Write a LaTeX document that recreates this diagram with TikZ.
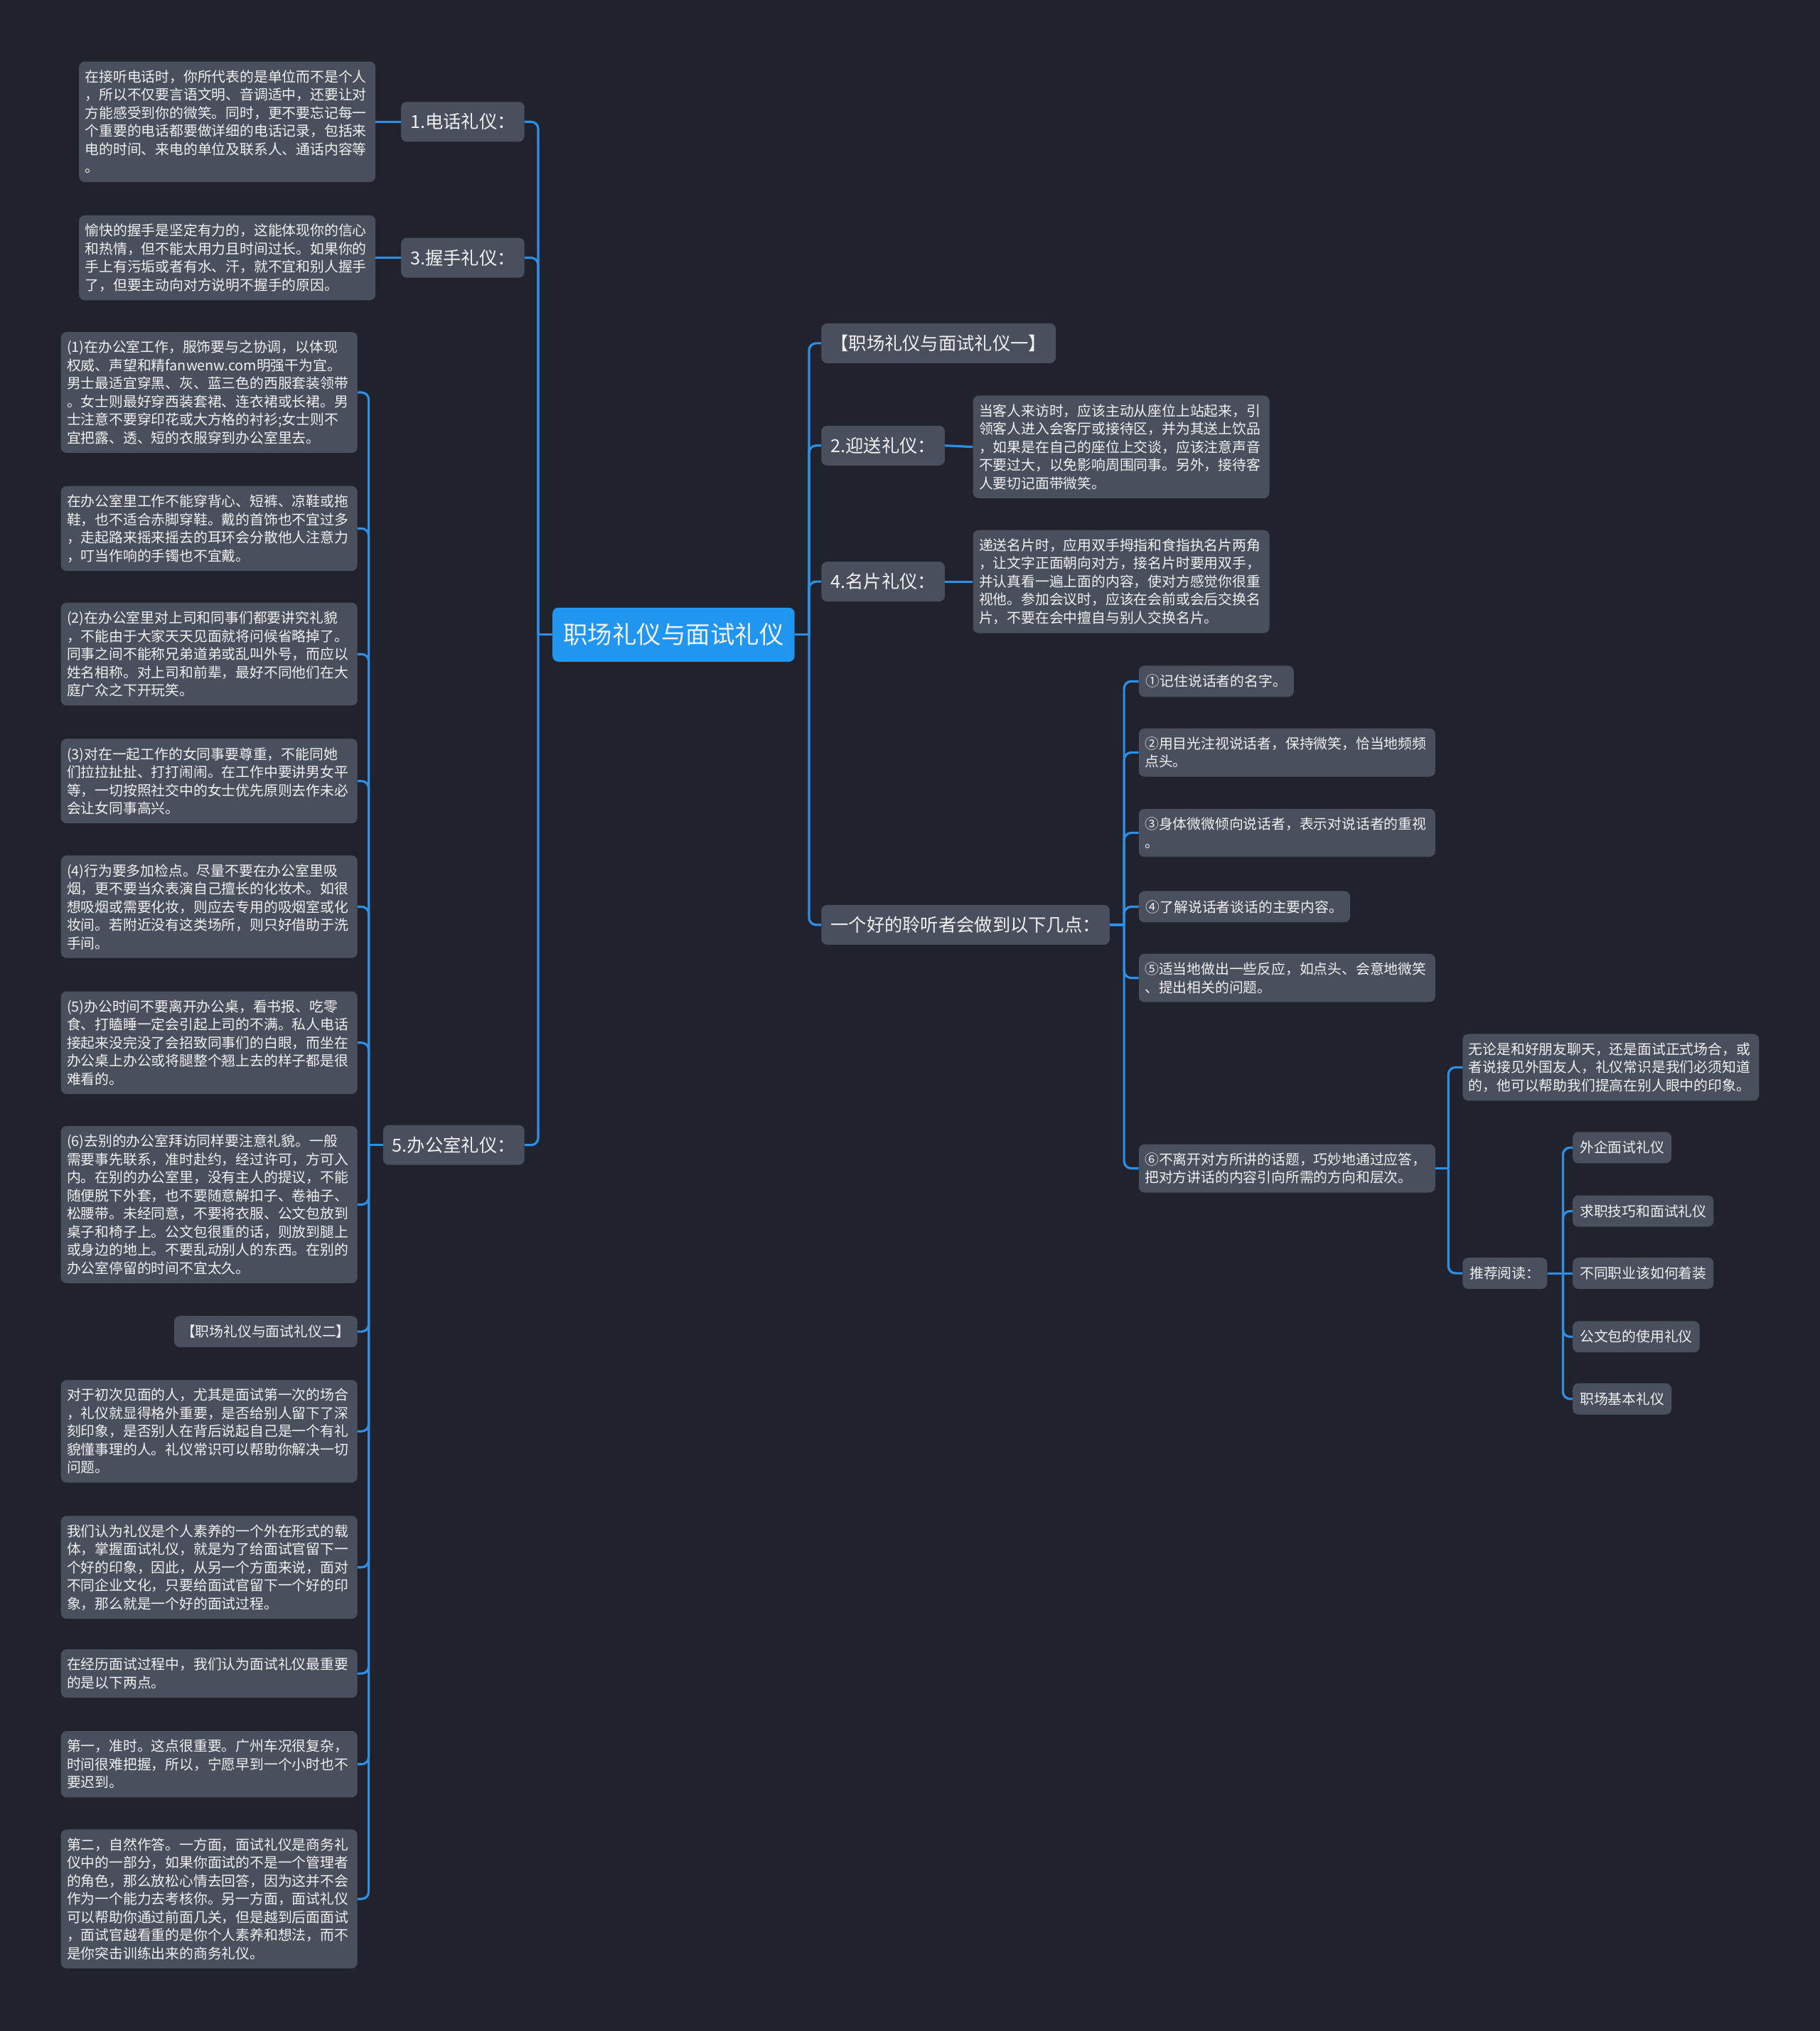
\documentclass[tikz,border=0pt]{standalone}
\usepackage{fontspec}
\setmainfont{Noto Sans CJK SC}
\definecolor{bgnavy}{HTML}{20232E}
\definecolor{boxgray}{HTML}{4A4F5D}
\definecolor{topicblue}{HTML}{2196F0}
\definecolor{lineblue}{HTML}{2E8FE6}
\definecolor{txtwhite}{HTML}{F0F0F0}

\tikzset{
  box/.style={fill=boxgray, rounded corners=8pt, text=txtwhite},
  topic/.style={box, fill=topicblue, font=\fontsize{34.5pt}{40pt}\selectfont, inner xsep=15pt, minimum height=76pt},
  branch/.style={box, font=\fontsize{25.3pt}{30pt}\selectfont, inner xsep=13pt, minimum height=56pt},
  leaf/.style={box, font=\fontsize{19.8pt}{25.5pt}\selectfont, inner xsep=10pt, inner ysep=12pt, minimum height=44pt},
  para/.style={leaf, inner xsep=8.5pt, text width=400pt, align=left},
  link/.style={draw=lineblue, line width=3.2pt, rounded corners=10pt},
}

\begin{document}
\begin{tikzpicture}[x=1.8221pt, y=-1.8221pt]
    % Background
    \fill[bgnavy] (0,0) rectangle (1405,1568);
    \useasboundingbox (0,0) rectangle (1405,1568);

    % Central topic
    \node[topic] (main) at (520,490) {职场礼仪与面试礼仪};

    % Left branches
    \node[branch, anchor=east] (tel) at (405,94) {1.电话礼仪：};
    \node[branch, anchor=east] (hand) at (405,199) {3.握手礼仪：};
    \node[branch, anchor=east] (office) at (405,884) {5.办公室礼仪：};

    \node[para, anchor=east] (teltxt) at (290,94) {在接听电话时，你所代表的是单位而不是个人\\，所以不仅要言语文明、音调适中，还要让对\\方能感受到你的微笑。同时，更不要忘记每一\\个重要的电话都要做详细的电话记录，包括来\\电的时间、来电的单位及联系人、通话内容等\\。};
    \node[para, anchor=east] (handtxt) at (290,199) {愉快的握手是坚定有力的，这能体现你的信心\\和热情，但不能太用力且时间过长。如果你的\\手上有污垢或者有水、汗，就不宜和别人握手\\了，但要主动向对方说明不握手的原因。};

    % Office items
    \node[para, anchor=east] (o1) at (276,303) {(1)在办公室工作，服饰要与之协调，以体现\\权威、声望和精fanwenw.com明强干为宜。\\男士最适宜穿黑、灰、蓝三色的西服套装领带\\。女士则最好穿西装套裙、连衣裙或长裙。男\\士注意不要穿印花或大方格的衬衫;女士则不\\宜把露、透、短的衣服穿到办公室里去。};
    \node[para, anchor=east] (o2) at (276,408) {在办公室里工作不能穿背心、短裤、凉鞋或拖\\鞋，也不适合赤脚穿鞋。戴的首饰也不宜过多\\，走起路来摇来摇去的耳环会分散他人注意力\\，叮当作响的手镯也不宜戴。};
    \node[para, anchor=east] (o3) at (276,505) {(2)在办公室里对上司和同事们都要讲究礼貌\\，不能由于大家天天见面就将问候省略掉了。\\同事之间不能称兄弟道弟或乱叫外号，而应以\\姓名相称。对上司和前辈，最好不同他们在大\\庭广众之下开玩笑。};
    \node[para, anchor=east] (o4) at (276,603) {(3)对在一起工作的女同事要尊重，不能同她\\们拉拉扯扯、打打闹闹。在工作中要讲男女平\\等，一切按照社交中的女士优先原则去作未必\\会让女同事高兴。};
    \node[para, anchor=east] (o5) at (276,700) {(4)行为要多加检点。尽量不要在办公室里吸\\烟，更不要当众表演自己擅长的化妆术。如很\\想吸烟或需要化妆，则应去专用的吸烟室或化\\妆间。若附近没有这类场所，则只好借助于洗\\手间。};
    \node[para, anchor=east] (o6) at (276,805) {(5)办公时间不要离开办公桌，看书报、吃零\\食、打瞌睡一定会引起上司的不满。私人电话\\接起来没完没了会招致同事们的白眼，而坐在\\办公桌上办公或将腿整个翘上去的样子都是很\\难看的。};
    \node[para, anchor=east] (o7) at (276,930) {(6)去别的办公室拜访同样要注意礼貌。一般\\需要事先联系，准时赴约，经过许可，方可入\\内。在别的办公室里，没有主人的提议，不能\\随便脱下外套，也不要随意解扣子、卷袖子、\\松腰带。未经同意，不要将衣服、公文包放到\\桌子和椅子上。公文包很重的话，则放到腿上\\或身边的地上。不要乱动别人的东西。在别的\\办公室停留的时间不宜太久。};
    \node[leaf, anchor=east] (o8) at (276,1028) {【职场礼仪与面试礼仪二】};
    \node[para, anchor=east] (o9) at (276,1105) {对于初次见面的人，尤其是面试第一次的场合\\，礼仪就显得格外重要，是否给别人留下了深\\刻印象，是否别人在背后说起自己是一个有礼\\貌懂事理的人。礼仪常识可以帮助你解决一切\\问题。};
    \node[para, anchor=east] (o10) at (276,1210) {我们认为礼仪是个人素养的一个外在形式的载\\体，掌握面试礼仪，就是为了给面试官留下一\\个好的印象，因此，从另一个方面来说，面对\\不同企业文化，只要给面试官留下一个好的印\\象，那么就是一个好的面试过程。};
    \node[para, anchor=east] (o11) at (276,1292) {在经历面试过程中，我们认为面试礼仪最重要\\的是以下两点。};
    \node[para, anchor=east] (o12) at (276,1362) {第一，准时。这点很重要。广州车况很复杂，\\时间很难把握，所以，宁愿早到一个小时也不\\要迟到。};
    \node[para, anchor=east] (o13) at (276,1466) {第二，自然作答。一方面，面试礼仪是商务礼\\仪中的一部分，如果你面试的不是一个管理者\\的角色，那么放松心情去回答，因为这并不会\\作为一个能力去考核你。另一方面，面试礼仪\\可以帮助你通过前面几关，但是越到后面面试\\，面试官越看重的是你个人素养和想法，而不\\是你突击训练出来的商务礼仪。};

    % Right branches
    \node[branch, anchor=west] (first) at (634,265) {【职场礼仪与面试礼仪一】};
    \node[branch, anchor=west] (greet) at (634,344) {2.迎送礼仪：};
    \node[branch, anchor=west] (card) at (634,449) {4.名片礼仪：};
    \node[branch, anchor=west] (listen) at (634,714) {一个好的聆听者会做到以下几点：};

    \node[para, anchor=west] (greettxt) at (751,345) {当客人来访时，应该主动从座位上站起来，引\\领客人进入会客厅或接待区，并为其送上饮品\\，如果是在自己的座位上交谈，应该注意声音\\不要过大，以免影响周围同事。另外，接待客\\人要切记面带微笑。};
    \node[para, anchor=west] (cardtxt) at (751,449) {递送名片时，应用双手拇指和食指执名片两角\\，让文字正面朝向对方，接名片时要用双手，\\并认真看一遍上面的内容，使对方感觉你很重\\视他。参加会议时，应该在会前或会后交换名\\片，不要在会中擅自与别人交换名片。};

    % Listener items
    \node[leaf, anchor=west] (l1) at (879,526) {①记住说话者的名字。};
    \node[para, anchor=west] (l2) at (879,581) {②用目光注视说话者，保持微笑，恰当地频频\\点头。};
    \node[para, anchor=west] (l3) at (879,643) {③身体微微倾向说话者，表示对说话者的重视\\。};
    \node[leaf, anchor=west] (l4) at (879,700) {④了解说话者谈话的主要内容。};
    \node[para, anchor=west] (l5) at (879,755) {⑤适当地做出一些反应，如点头、会意地微笑\\、提出相关的问题。};
    \node[para, anchor=west] (l6) at (879,902) {⑥不离开对方所讲的话题，巧妙地通过应答，\\把对方讲话的内容引向所需的方向和层次。};

    \node[para, anchor=west] (manner) at (1129,824) {无论是和好朋友聊天，还是面试正式场合，或\\者说接见外国友人，礼仪常识是我们必须知道\\的，他可以帮助我们提高在别人眼中的印象。};
    \node[leaf, anchor=west] (rec) at (1129,983) {推荐阅读：};

    % Recommended reading
    \node[leaf, anchor=west] (r1) at (1214,886) {外企面试礼仪};
    \node[leaf, anchor=west] (r2) at (1214,935) {求职技巧和面试礼仪};
    \node[leaf, anchor=west] (r3) at (1214,983) {不同职业该如何着装};
    \node[leaf, anchor=west] (r4) at (1214,1032) {公文包的使用礼仪};
    \node[leaf, anchor=west] (r5) at (1214,1080) {职场基本礼仪};

    % Connectors, left side
    \draw[link] (main.west) -- ++(-11,0) coordinate (lspine);
    \foreach \c in {tel,hand,office} \draw[link] (lspine) |- (\c.east);
    \draw[link] (tel.west) -- (teltxt.east);
    \draw[link] (hand.west) -- (handtxt.east);
    \draw[link] (office.west) -- ++(-11,0) coordinate (ospine);
    \foreach \i in {1,...,13} \draw[link] (ospine) |- (o\i.east);

    % Connectors, right side
    \draw[link] (main.east) -- ++(11,0) coordinate (rspine);
    \foreach \c in {first,greet,card,listen} \draw[link] (rspine) |- (\c.west);
    \draw[link] (greet.east) -- (greettxt.west);
    \draw[link] (card.east) -- (cardtxt.west);
    \draw[link] (listen.east) -- ++(11,0) coordinate (mspine);
    \foreach \i in {1,...,6} \draw[link] (mspine) |- (l\i.west);
    \draw[link] (l6.east) -- ++(10,0) coordinate (sspine);
    \foreach \c in {manner,rec} \draw[link] (sspine) |- (\c.west);
    \draw[link] (rec.east) -- (r3.west);
    \path (rec.east) -- ++(12,0) coordinate (tspine);
    \foreach \c in {r1,r2,r4,r5} \draw[link] (tspine) |- (\c.west);
\end{tikzpicture}
\end{document}
